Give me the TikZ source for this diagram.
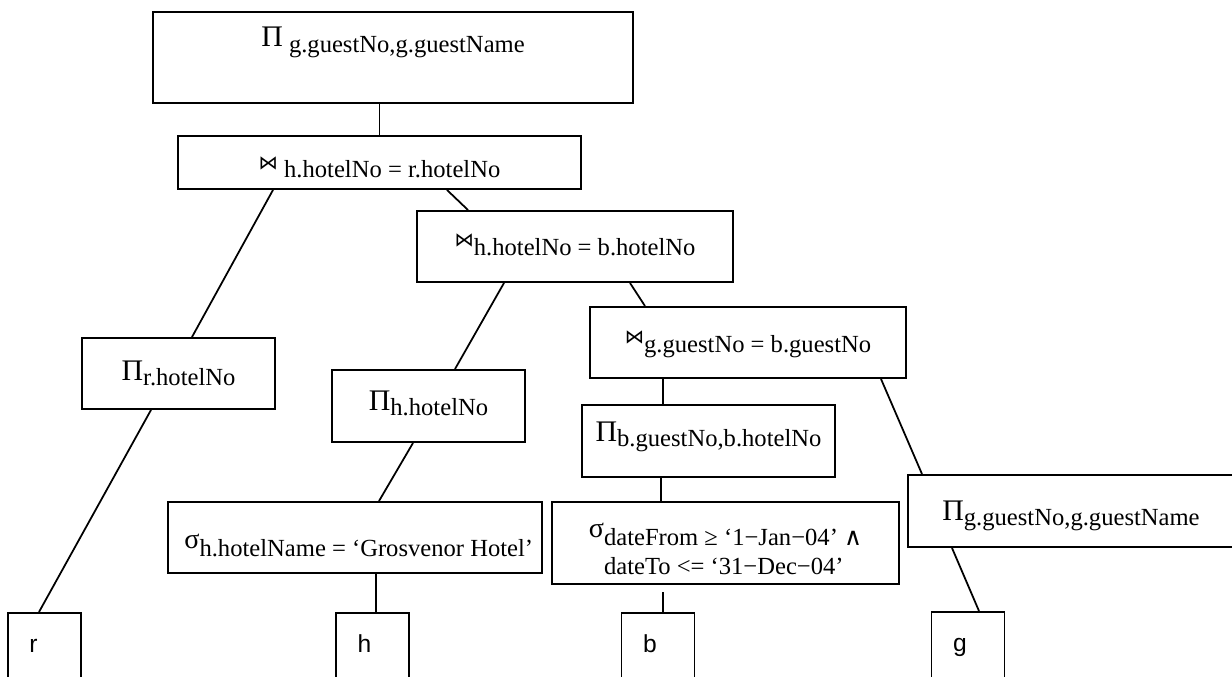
\documentclass[tikz,border=0pt]{standalone}
\usepackage{fontspec}
\setmainfont{Liberation Serif}
\newfontfamily\leaffont{Liberation Sans}
\newfontfamily\symfont{DejaVu Sans}
\newcommand\Proj{{\fontsize{17}{17}\selectfont Π}}
\newcommand\Sel{\raisebox{4.5pt}{\fontsize{16}{16}\selectfont σ}}
\newcommand\Bowtie{\raisebox{5pt}{\symfont\fontsize{11}{11}\selectfont ⋈}}
\newcommand\low[1]{\raisebox{-3pt}{#1}}
\newcommand\lab[2]{\raisebox{#1}[0pt][0pt]{#2}}

\begin{document}
\begin{tikzpicture}[-,thick,
  op node/.style={draw,line width=1.1pt,inner sep=0pt,font=\fontsize{14}{14}\selectfont},
  leaf node/.style={draw,line width=1.1pt,anchor=north,inner xsep=0.43cm,inner ysep=0pt,
    text width=0.6cm,align=left,text height=0.8cm,text depth=1.2cm,
    font=\leaffont\fontsize{14}{14}\selectfont},
  every edge/.style={draw,line width=1pt}]
  \useasboundingbox (0,0) rectangle (24.64,-13.54);
  \clip (0,0) rectangle (24.64,-13.54);

  \node[op node,minimum width=9.6cm,minimum height=1.82cm] (top) at (7.86,-1.15)
    {\lab{0.21cm}{\Proj\ \low{g.guestNo,g.guestName}}};
  \node[op node,minimum width=8.06cm,minimum height=1.06cm] (j1) at (7.59,-3.25)
    {\lab{-0.31cm}{\Bowtie\ h.hotelNo = r.hotelNo}};
  \node[op node,minimum width=6.32cm,minimum height=1.42cm] (j2) at (11.5,-4.93)
    {\lab{-0.17cm}{\Bowtie h.hotelNo = b.hotelNo}};
  \node[op node,minimum width=6.32cm,minimum height=1.42cm] (j3) at (14.96,-6.85)
    {\lab{-0.19cm}{\Bowtie g.guestNo = b.guestNo}};
  \node[op node,minimum width=3.86cm,minimum height=1.42cm] (pr) at (3.57,-7.47)
    {\lab{-0.13cm}{\Proj\low{r.hotelNo}}};
  \node[op node,minimum width=3.86cm,minimum height=1.44cm] (ph) at (8.57,-8.12)
    {\lab{-0.08cm}{\Proj\low{h.hotelNo}}};
  \node[op node,minimum width=5.06cm,minimum height=1.44cm] (pb) at (14.17,-8.82)
    {\lab{0cm}{\Proj\low{b.guestNo,b.hotelNo}}};
  \node[op node,minimum width=6.52cm,minimum height=1.44cm] (pg) at (21.42,-10.22)
    {\lab{-0.18cm}{\Proj\low{g.guestNo,g.guestName}}};
  \node[op node,minimum width=7.48cm,minimum height=1.42cm] (sh) at (7.1,-10.75)
    {\lab{-0.38cm}{\hspace{0.15cm}\Sel h.hotelName = ‘Grosvenor Hotel’}};
  \node[op node,minimum width=6.94cm,minimum height=1.64cm] (sb) at (14.51,-10.86)
    {\lab{-0.04cm}{\begin{tabular}[t]{@{}l@{}}\Sel dateFrom ≥ ‘1−Jan−04’ {\symfont ∧}\\
      \phantom{\Sel}dateTo <= ‘31−Dec−04’\end{tabular}}};

  \node[leaf node] (r) at (0.89,-12.24) {r};
  \node[leaf node] (h) at (7.45,-12.24) {h};
  \node[leaf node] (b) at (13.16,-12.24) {b};
  \node[leaf node] (g) at (19.36,-12.22) {g};

  \path
    (j1.north |- top.south) edge (j1.north)
    ([xshift=-2.13cm]j1.south) edge ([xshift=0.27cm]pr.north)
    ([xshift=1.35cm]j1.south) edge ([xshift=-2.14cm]j2.north)
    ([xshift=-0.55cm]pr.south) edge ([xshift=-0.11cm]r.north)
    ([xshift=-1.42cm]j2.south) edge ([xshift=0.53cm]ph.north)
    ([xshift=1.1cm]j2.south) edge ([xshift=-2.06cm]j3.north)
    ([xshift=-0.31cm]ph.south) edge ([xshift=0.48cm]sh.north)
    ([xshift=0.07cm]h.north |- sh.south) edge ([xshift=0.07cm]h.north)
    ([xshift=-0.91cm]pb.north |- j3.south) edge ([xshift=-0.91cm]pb.north)
    ([xshift=2.66cm]j3.south) edge ([xshift=-2.98cm]pg.north)
    ([xshift=-1.29cm]sb.north |- pb.south) edge ([xshift=-1.29cm]sb.north)
    ([xshift=0.1cm,yshift=0.4cm]b.north) edge ([xshift=0.1cm]b.north)
    ([xshift=-2.38cm]pg.south) edge ([xshift=0.22cm]g.north);
\end{tikzpicture}
\end{document}
